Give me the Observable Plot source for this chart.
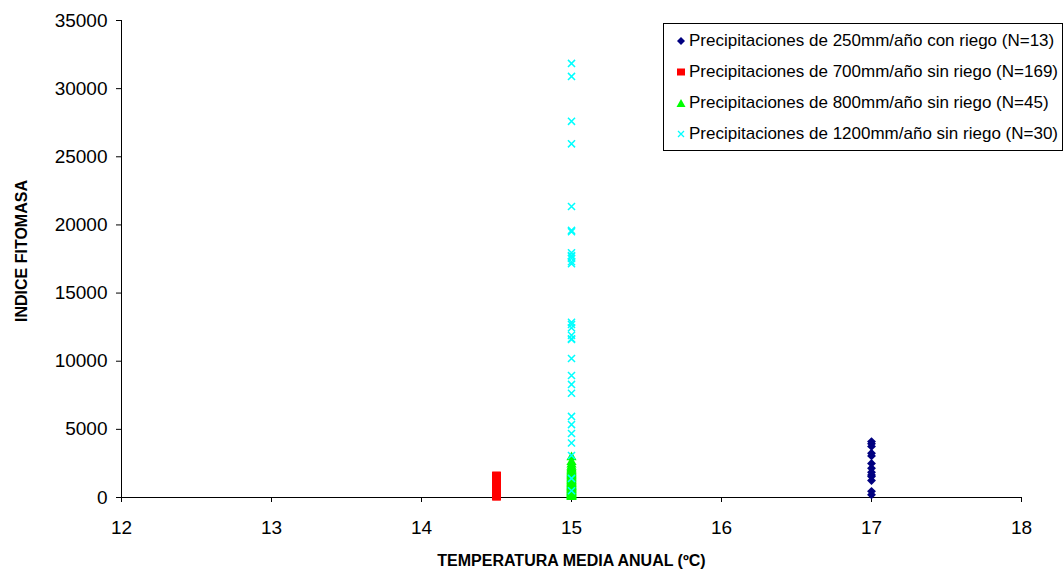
<!DOCTYPE html>
<html><head><meta charset="utf-8">
<script src="https://cdn.jsdelivr.net/npm/d3@7"></script>
<script src="https://cdn.jsdelivr.net/npm/@observablehq/plot@0.6"></script>
<style>
body{margin:0;background:#fff;font-family:"Liberation Sans",Arial,sans-serif}
#wrap{position:relative;width:1064px;height:570px}
#legend{position:absolute;left:663px;top:23px;width:400px;height:128px;box-sizing:border-box;border:1px solid #000;background:#fff;font-size:17px;color:#000}
.row{position:absolute;left:12px;height:22px;display:flex;align-items:center;white-space:nowrap}
.row svg{margin-right:3px}
</style></head>
<body><div id="wrap"></div>
<script>
// ---- data ----
const xTicks = [12, 13, 14, 15, 16, 17, 18];
const yTicks = [0, 5000, 10000, 15000, 20000, 25000, 30000, 35000];
const seriesNames = [
  "Precipitaciones de 250mm/año con riego (N=13)",
  "Precipitaciones de 700mm/año sin riego (N=169)",
  "Precipitaciones de 800mm/año sin riego (N=45)",
  "Precipitaciones de 1200mm/año sin riego (N=30)"
];
const seriesTemps = [17, 14.5, 15, 15];
const seriesColors = ["#000080", "#ff0000", "#00ff00", "#00ffff"];
const p250 = [4100, 3950, 3750, 3250, 3050, 2500, 2150, 1850, 1650, 1550, 1250, 450, 200];
const p700 = [
  98, 110, 115, 132, 140, 151, 163, 170, 188, 195, 204, 219, 226,
  238, 242, 257, 269, 275, 291, 296, 310, 322, 330, 337, 351, 360,
  372, 378, 394, 402, 409, 421, 433, 440, 455, 461, 474, 486, 490,
  505, 512, 523, 538, 544, 559, 566, 578, 587, 595, 610, 618, 627,
  640, 648, 661, 669, 682, 690, 703, 711, 725, 731, 746, 752, 768,
  774, 785, 797, 806, 815, 829, 836, 848, 857, 869, 878, 890, 899,
  910, 921, 928, 943, 950, 962, 974, 981, 996, 1003, 1015, 1024, 1036,
  1044, 1058, 1066, 1077, 1089, 1095, 1110, 1118, 1127, 1139, 1150, 1158, 1171,
  1180, 1192, 1199, 1213, 1221, 1234, 1240, 1255, 1262, 1276, 1285, 1294, 1307,
  1316, 1327, 1338, 1345, 1359, 1366, 1380, 1388, 1399, 1410, 1418, 1432, 1440,
  1452, 1461, 1470, 1484, 1493, 1502, 1514, 1525, 1533, 1547, 1556, 1568, 1580,
  120, 185, 260, 345, 415, 498, 572, 655, 740, 820, 905, 990, 1070,
  1150, 1225, 1305, 1390, 1475, 1550, 230, 470, 700, 950, 1200, 1430, 1575
];
const p800 = [40, 70, 110, 150, 180, 220, 260, 300, 340, 380, 420, 460, 500, 540, 590,
  630, 680, 720, 770, 810, 860, 900, 950, 1000, 1050, 1100, 1160, 1220, 1270, 1330,
  1390, 1450, 1520, 1580, 1650, 1720, 1800, 1880, 1960, 2050, 2150, 2260, 2420, 2600, 2950];
const p1200 = [31850, 30900, 27600, 25950, 21350, 19600, 19500, 17950, 17750, 17700, 17550,
  17300, 17150, 12850, 12700, 12450, 11900, 11650, 11600, 10200, 8950, 8300, 7650, 5950,
  5350, 4700, 4000, 3080, 1400, 500];
const xTitle = "TEMPERATURA MEDIA ANUAL (ºC)";
const yTitle = "INDICE FITOMASA";

const rows = (vals, i) => vals.map(v => ({serie: seriesNames[i], temp: seriesTemps[i], value: v}));
const d250 = rows(p250, 0), d700 = rows(p700, 1), d800 = rows(p800, 2), d1200 = rows(p1200, 3);

const font = "Liberation Sans, Arial, sans-serif";
const chart = Plot.plot({
  width: 1064, height: 570,
  marginLeft: 121, marginRight: 43, marginTop: 20, marginBottom: 73,
  style: {fontFamily: font, fontSize: "19px", color: "#000", background: "#fff", overflow: "visible"},
  x: {domain: [12, 18]},
  y: {domain: [0, 35000]},
  marks: [
    Plot.axisX({ticks: xTicks, tickSize: 5, tickPadding: 18, tickFormat: d => String(d), label: null, stroke: "#000"}),
    Plot.axisY({ticks: yTicks, tickSize: 5, tickPadding: 9, tickFormat: d => String(d), label: null, stroke: "#000"}),
    Plot.ruleX([12], {stroke: "#000"}),
    Plot.ruleY([0], {stroke: "#000"}),
    Plot.dot(d250, {x: "temp", y: "value", symbol: "diamond2", r: 4, fill: seriesColors[0], stroke: "none"}),
    Plot.dot(d700, {x: "temp", y: "value", symbol: "square", r: 4.8, fill: seriesColors[1], stroke: "none"}),
    Plot.dot(d800, {x: "temp", y: "value", symbol: "triangle", r: 3.8, fill: seriesColors[2], stroke: "none"}),
    Plot.dot(d1200, {x: "temp", y: "value", symbol: "times", r: 3.3, stroke: seriesColors[3], strokeWidth: 1.5}),
    Plot.text([xTitle], {text: d => d, frameAnchor: "bottom", textAnchor: "middle", lineAnchor: "middle", dy: 63, fontWeight: "bold", fontSize: 16, letterSpacing: "-0.4px", fill: "#000"}),
    Plot.text([yTitle], {text: d => d, frameAnchor: "left", textAnchor: "middle", lineAnchor: "middle", dx: -100, dy: -8, rotate: -90, fontWeight: "bold", fontSize: 16, letterSpacing: "-0.3px", fill: "#000"})
  ]
});
const wrap = document.getElementById("wrap");
wrap.appendChild(chart);

// legend
const legend = document.createElement("div");
legend.id = "legend";
const symbols = [
  `<svg width="10" height="10"><path d="M5 1 L9 5 L5 9 L1 5Z" fill="${seriesColors[0]}"/></svg>`,
  `<svg width="10" height="10"><rect x="1" y="1.5" width="8" height="7" fill="${seriesColors[1]}"/></svg>`,
  `<svg width="10" height="10"><path d="M5 1 L9.5 9 L0.5 9Z" fill="${seriesColors[2]}"/></svg>`,
  `<svg width="10" height="10"><path d="M2 2 L8 8 M8 2 L2 8" stroke="${seriesColors[3]}" stroke-width="1.3"/></svg>`
];
const rowTops = [6, 37, 68, 99];
seriesNames.forEach((name, i) => {
  const r = document.createElement("div");
  r.className = "row";
  r.style.top = rowTops[i] + "px";
  r.innerHTML = symbols[i] + `<span>${name}</span>`;
  legend.appendChild(r);
});
wrap.appendChild(legend);
</script>
</body></html>
